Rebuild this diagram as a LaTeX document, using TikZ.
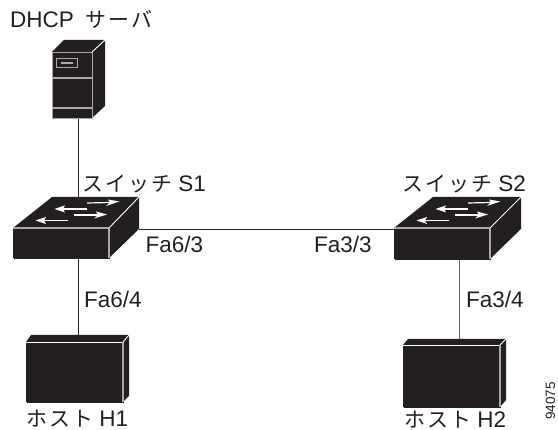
\documentclass[tikz,border=0pt]{standalone}
\usepackage{fontspec}
\setmainfont{Liberation Sans}
\newfontfamily\cjk[Scale=0.93,LetterSpace=10]{Noto Sans CJK JP}
\definecolor{ink}{HTML}{231F20}
\definecolor{edge}{HTML}{A8A8A8}
\tikzset{
  x=1pt,y=-1pt,
  face/.style={fill=ink,draw=none},
  hl/.style={draw=edge,line width=1.1pt},
  thin white/.style={draw=white,line width=0.9pt},
  wire/.style={draw=ink,line width=0.8pt},
  lab/.style={inner sep=0pt,text=ink,font=\fontsize{22.5}{26}\selectfont},
  front/.style={fill=ink,draw=edge,line width=1.1pt,inner sep=0pt,anchor=north west},
  flow/.style={draw=white,line width=1.2pt},
  flowtip/.style={fill=white,draw=none},
}
\newcommand{\swarrows}[2]{%
  \begin{scope}[shift={(#1,#2)}]
    \draw[flow] (87,203) -- (110,202.5);
    \fill[flowtip] (119.5,201.5) -- (108,199.5) -- (110,202.5) -- (106,206) -- cycle;
    \draw[flow] (87,209) -- (62,209);
    \fill[flowtip] (54.5,209) -- (65,205.5) -- (63,209) -- (65,212.5) -- cycle;
    \draw[flow] (74,215) -- (98,215);
    \fill[flowtip] (107,214.5) -- (96,211.5) -- (98,215) -- (94,218.5) -- cycle;
    \draw[flow] (68,220.5) -- (44,220.5);
    \fill[flowtip] (35.5,220.5) -- (46,217) -- (44,220.5) -- (46,224) -- cycle;
  \end{scope}}
\begin{document}
\begin{tikzpicture}
\useasboundingbox (0,0) rectangle (558,430);
% connector end points
\coordinate (s1n) at (78,197);
\coordinate (s1e) at (139,229);
\coordinate (s2w) at (394,229);
\coordinate (h1n) at (78,335);
\coordinate (h2n) at (459,339);
% server
\fill[face] (52,52) -- (64,40) -- (105,40) -- (105,106) -- (92,118) -- (52,118) -- cycle;
\node[front,minimum width=40pt,minimum height=66pt] (srv) at (52,52) {};
\draw[thin white] (92,52) -- (105,40);
\draw[hl] (52,78) -- (92,78) (52,108) -- (92,108);
\draw[hl,line width=0.9pt] (56.5,58.5) rectangle (77.5,67);
\fill[edge] (61,62) rectangle (72.5,64);
% switch S1
\fill[face] (13,228) -- (52,197) -- (139,197) -- (139,229) -- (109,258) -- (13,258) -- cycle;
\node[front,draw=none,minimum width=96pt,minimum height=30pt] (s1) at (13,228) {};
\draw[hl] (13,228) -- (109,228) -- (109,258);
\draw[thin white] (109,228) -- (139,197);
\swarrows{0}{0}
% switch S2
\fill[face] (394,228) -- (433,197) -- (521,197) -- (521,229) -- (490,259) -- (394,259) -- cycle;
\node[front,draw=none,minimum width=96pt,minimum height=31pt] (s2) at (394,228) {};
\draw[hl] (394,228) -- (490,228) -- (490,259);
\draw[thin white] (490,228) -- (521,197);
\swarrows{381}{0}
% host H1
\fill[face] (26,342) -- (31,335) -- (129,335) -- (129,396) -- (123,402) -- (26,402) -- cycle;
\node[front,draw=none,minimum width=97pt,minimum height=60pt] (h1) at (26,342) {};
\draw[thin white] (26,342) -- (123,342);
\draw[hl] (123,342) -- (123,402);
\draw[thin white] (123,342) -- (129,335);
% host H2
\fill[face] (403,345) -- (408,339) -- (506,339) -- (506,400) -- (500,407) -- (403,407) -- cycle;
\node[front,draw=none,minimum width=97pt,minimum height=62pt] (h2) at (403,345) {};
\draw[thin white] (403,345) -- (500,345);
\draw[hl] (500,345) -- (500,407);
\draw[thin white] (500,345) -- (506,339);
% connectors
\draw[wire] (srv.south -| s1n) -- (s1n);
\draw[wire] (s1e) -- (s2w);
\draw[wire] (s1.south -| s1n) -- (h1n);
\draw[wire,draw=ink!70] (s2.south -| h2n) -- (h2n);
% labels
\node[lab,anchor=base west] (tsrv) at (10,28) {DHCP\hspace{5pt} {\cjk サーバ}};
\node[lab,anchor=base west] (ts1) at (82,192) {{\cjk スイッチ} S1};
\node[lab,anchor=base west] (ts2) at (402,192) {{\cjk スイッチ} S2};
\node[lab,anchor=base west] (p63) at (145.5,253) {Fa6/3};
\node[lab,anchor=base west] (p33) at (314,253) {Fa3/3};
\node[lab,anchor=base west] (p64) at (84,308) {Fa6/4};
\node[lab,anchor=base west] (p34) at (466,308) {Fa3/4};
\node[lab,anchor=base west] (th1) at (26,426.5) {{\cjk ホスト} H1};
\node[lab,anchor=base west] (th2) at (404,427.5) {{\cjk ホスト} H2};
\node[lab,anchor=base west,rotate=90,font=\fontsize{13.5}{16}\selectfont] (fig) at (555,420) {94075};
\end{tikzpicture}
\end{document}
